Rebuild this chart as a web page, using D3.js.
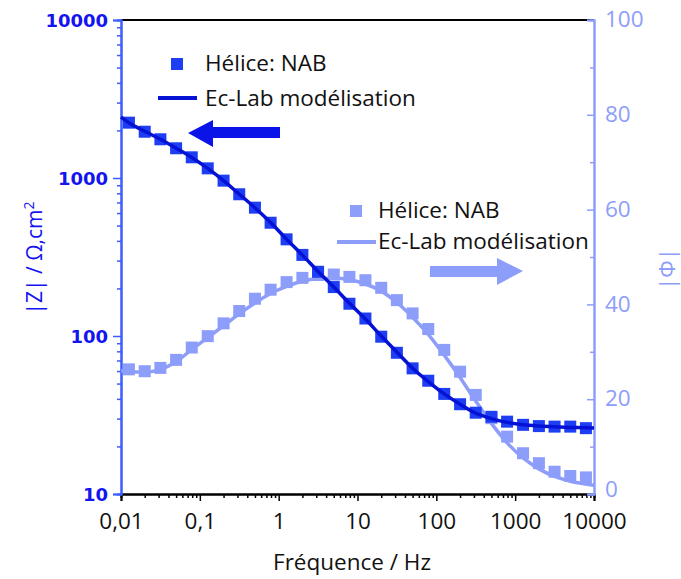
<!DOCTYPE html>
<html><head><meta charset="utf-8">
<script src="https://cdn.jsdelivr.net/npm/d3@7"></script>
<style>
html,body{margin:0;padding:0;background:#fff;}
svg{display:block;}
</style></head>
<body>
<svg id="chart" width="681" height="579"></svg>
<script>
// ---- data ----
const freq = [0.0126, 0.02, 0.0316, 0.05, 0.079, 0.126, 0.2, 0.316, 0.5, 0.79,
              1.26, 2, 3.16, 5, 7.9, 12.6, 20, 31.6, 50, 79,
              126, 200, 316, 500, 790, 1260, 2000, 3160, 5000, 7900];
const zModulus = [2240, 1963, 1758, 1542, 1352, 1151, 962, 789, 649, 521,
                  409, 326, 255, 204, 160, 129, 99, 78.3, 62.4, 52.1,
                  43, 37, 32.7, 30.8, 28.7, 27.4, 26.9, 26.7, 26.7, 26.1];
const phase = [26.3, 25.9, 26.6, 28.3, 30.9, 33.3, 36.0, 38.6, 41.2, 43.1,
               44.7, 45.6, 46.2, 46.3, 45.8, 45.1, 43.5, 40.9, 38.1, 34.8,
               30.4, 25.8, 20.9, 16.0, 12.1, 8.6, 6.5, 4.7, 3.8, 3.5];
const fitFreq = [0.01, 0.0126, 0.02, 0.0316, 0.05, 0.079, 0.126, 0.2, 0.316, 0.5, 0.79,
                 1.26, 2, 3.16, 5, 7.9, 12.6, 20, 31.6, 50, 79,
                 126, 200, 316, 500, 790, 1260, 2000, 3160, 5000, 7900, 10000];
const zFit = [2430, 2240, 1975, 1760, 1545, 1350, 1150, 962, 790, 648, 522,
              410, 325, 256, 204, 161, 128, 100, 79, 62.5, 51.5,
              43, 37, 32.5, 30.0, 28.4, 27.4, 26.9, 26.6, 26.4, 26.3, 26.2];
const phaseFit = [26.0, 25.8, 25.7, 26.3, 27.9, 30.5, 33.0, 35.5, 38.0, 40.3, 42.3,
                  43.8, 44.9, 45.4, 45.5, 45.2, 44.3, 42.8, 40.4, 37.3, 33.7,
                  29.3, 24.6, 19.6, 14.9, 10.8, 7.6, 5.3, 3.7, 2.7, 2.1, 1.8];
const xTickValues = [0.01, 0.1, 1, 10, 100, 1000, 10000];
const xTickLabels = ["0,01", "0,1", "1", "10", "100", "1000", "10000"];
const leftTickValues = [10, 100, 1000, 10000];
const leftTickLabels = ["10", "100", "1000", "10000"];
const rightTickValues = [0, 20, 40, 60, 80, 100];
const rightMinorValues = [10, 30, 50, 70, 90];
const legendLabels = ["Hélice: NAB", "Ec-Lab modélisation"];
const xTitle = "Fréquence / Hz";

// ---- styles ----
const C_DARK = "#1e3ef4", C_DARK_LINE = "#0512d6", C_LIGHT = "#8d9dfa";
const C_LEFT_TEXT = "#1414f0", C_LEFT_AXIS = "#3c5cff";
const FONT = "'Open Sans', Lato, sans-serif";

const svg = d3.select("#chart");
const L = 121, R = 594, T = 20, B = 494;
const x = d3.scaleLog().domain([0.01, 10000]).range([L, R]);
const yL = d3.scaleLog().domain([10, 10000]).range([B, T]);
const yR = d3.scaleLinear().domain([0, 100]).range([B, T]);

function logMinors(lo, hi) {
  const out = [];
  for (let p = lo; p < hi; p *= 10) for (let m = 2; m <= 9; m++) out.push(p * m);
  return out;
}

// top frame
svg.append("line").attr("x1", L).attr("x2", R).attr("y1", T).attr("y2", T)
  .attr("stroke", "#000").attr("stroke-width", 2);

// bottom axis
const gx = svg.append("g").attr("transform", `translate(0,${B})`);
gx.call(d3.axisBottom(x).tickValues(logMinors(0.01, 10000)).tickSize(4).tickFormat(""));
gx.call(g => g.append("g").call(d3.axisBottom(x).tickValues(xTickValues).tickSize(7)
   .tickFormat((d, i) => xTickLabels[i])));
gx.selectAll("path.domain").attr("stroke", "#000").attr("stroke-width", 2);
gx.selectAll("line").attr("stroke", "#000").attr("stroke-width", 1.5);
gx.selectAll("text").attr("font-family", FONT).attr("font-size", 22.5).attr("fill", "#111")
  .attr("dy", null).attr("y", 34.5);

// left axis
const gl = svg.append("g").attr("transform", `translate(${L},0)`);
gl.call(d3.axisLeft(yL).tickValues(logMinors(10, 10000)).tickSize(4).tickFormat(""));
gl.call(g => g.append("g").call(d3.axisLeft(yL).tickValues(leftTickValues).tickSize(8)
   .tickFormat((d, i) => leftTickLabels[i])));
gl.selectAll("path.domain").attr("stroke", C_LEFT_AXIS).attr("stroke-width", 2);
gl.selectAll("line").attr("stroke", C_LEFT_AXIS).attr("stroke-width", 1.5);
gl.selectAll("text").attr("font-family", "'DejaVu Sans', sans-serif").attr("font-weight", "bold")
  .attr("font-size", 18).attr("fill", C_LEFT_TEXT).attr("x", -13).attr("dy", "0.36em");

// right axis
const gr = svg.append("g").attr("transform", `translate(${R},0)`);
gr.call(d3.axisLeft(yR).tickValues(rightMinorValues).tickSize(4).tickFormat(""));
gr.call(g => g.append("g").call(d3.axisLeft(yR).tickValues(rightTickValues).tickSize(7)
   .tickFormat(d => d)));
gr.selectAll("path.domain").attr("stroke", C_LIGHT).attr("stroke-width", 2);
gr.selectAll("line").attr("stroke", C_LIGHT).attr("stroke-width", 1.5);
gr.selectAll("text").attr("font-family", FONT).attr("font-size", 22.5).attr("fill", C_LIGHT)
  .attr("text-anchor", "start").attr("x", 11).attr("dy", d => d === 0 ? "0.1em" : "0.3em");

// axis titles
svg.append("text").attr("x", 352).attr("y", 570).attr("text-anchor", "middle")
  .attr("font-family", FONT).attr("font-size", 22.5).attr("fill", "#111").text(xTitle);
const lt = svg.append("text").attr("transform", "translate(42,258) rotate(-90)")
  .attr("text-anchor", "middle").attr("font-family", FONT).attr("font-size", 21).attr("fill", C_LEFT_TEXT);
lt.append("tspan").text("|Z| / Ω,cm");
lt.append("tspan").attr("font-size", 14).attr("dy", -8).text("2");
svg.append("text").attr("transform", "translate(675,269) rotate(-90)")
  .attr("text-anchor", "middle").attr("font-family", FONT).attr("font-size", 22).attr("fill", C_LIGHT)
  .text("|Φ|");

// phase series (light)
const lineR = d3.line().x((d, i) => x(fitFreq[i])).y(d => yR(d)).curve(d3.curveMonotoneX);
svg.append("g").selectAll("rect").data(phase).join("rect")
  .attr("x", (d, i) => x(freq[i]) - 6).attr("y", d => yR(d) - 6)
  .attr("width", 12).attr("height", 12).attr("fill", C_LIGHT);
svg.append("path").datum(phaseFit).attr("d", lineR).attr("fill", "none")
  .attr("stroke", C_LIGHT).attr("stroke-width", 3.5);

// modulus series (dark)
const lineL = d3.line().x((d, i) => x(fitFreq[i])).y(d => yL(d)).curve(d3.curveMonotoneX);
svg.append("g").selectAll("rect").data(zModulus).join("rect")
  .attr("x", (d, i) => x(freq[i]) - 6).attr("y", d => yL(d) - 6)
  .attr("width", 12).attr("height", 12).attr("fill", C_DARK);
svg.append("path").datum(zFit).attr("d", lineL).attr("fill", "none")
  .attr("stroke", C_DARK_LINE).attr("stroke-width", 3.5);

// legend 1 (dark)
svg.append("rect").attr("x", 171).attr("y", 58).attr("width", 12).attr("height", 12).attr("fill", C_DARK);
svg.append("line").attr("x1", 158).attr("x2", 197).attr("y1", 98).attr("y2", 98)
  .attr("stroke", C_DARK_LINE).attr("stroke-width", 4);
svg.append("text").attr("x", 205).attr("y", 71).attr("font-family", FONT).attr("font-size", 22.5)
  .attr("fill", "#111").text(legendLabels[0]);
svg.append("text").attr("x", 205).attr("y", 106).attr("font-family", FONT).attr("font-size", 22.5)
  .attr("fill", "#111").text(legendLabels[1]);

// legend 2 (light)
svg.append("rect").attr("x", 350).attr("y", 205).attr("width", 12).attr("height", 12).attr("fill", C_LIGHT);
svg.append("line").attr("x1", 337).attr("x2", 376).attr("y1", 242).attr("y2", 242)
  .attr("stroke", C_LIGHT).attr("stroke-width", 4);
svg.append("text").attr("x", 378).attr("y", 218).attr("font-family", FONT).attr("font-size", 22.5)
  .attr("fill", "#111").text(legendLabels[0]);
svg.append("text").attr("x", 378).attr("y", 249).attr("font-family", FONT).attr("font-size", 22.5)
  .attr("fill", "#111").text(legendLabels[1]);

// arrows
svg.append("path").attr("d", "M188,133 L213,120 L213,127 L280,127 L280,138 L213,138 L213,147 Z")
  .attr("fill", "#0a14e8");
svg.append("path").attr("d", "M523,271 L497,258 L497,266 L430,266 L430,277 L497,277 L497,285 Z")
  .attr("fill", C_LIGHT);
</script>
</body></html>
